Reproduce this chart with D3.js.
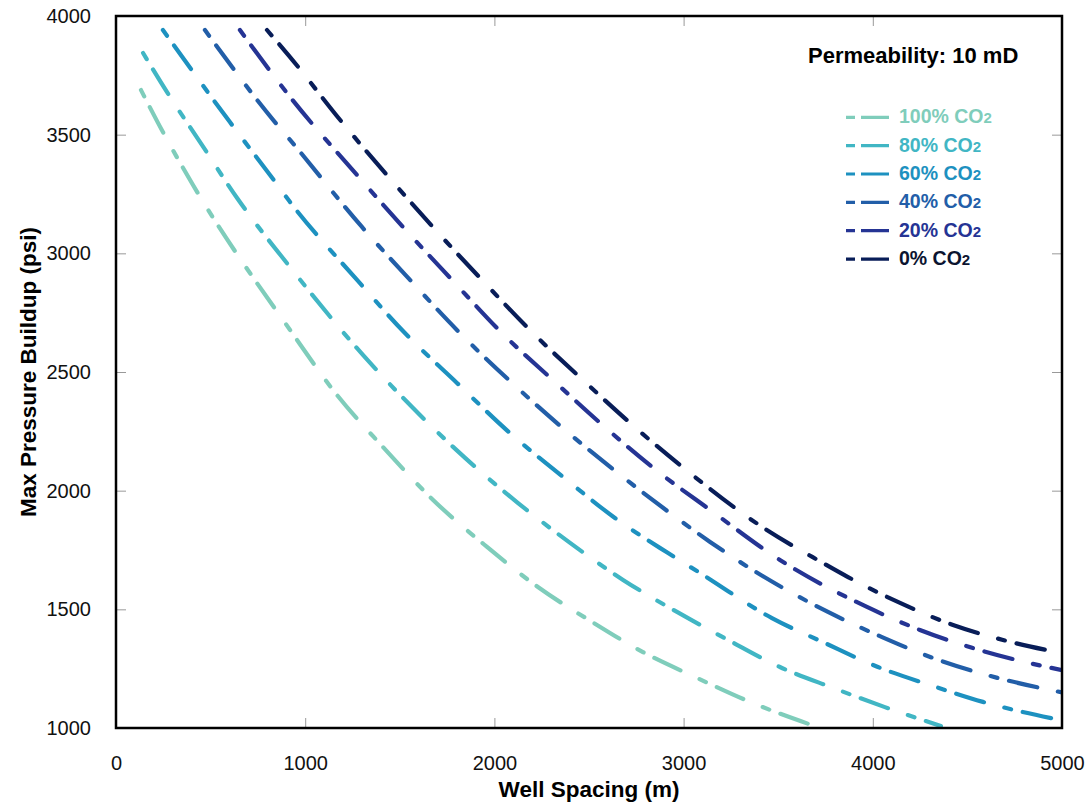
<!DOCTYPE html>
<html>
<head>
<meta charset="utf-8">
<script src="https://cdn.jsdelivr.net/npm/d3@7"></script>
<style>
  body { margin: 0; background: #fff; }
  svg text { font-family: "Liberation Sans", Arial, sans-serif; }
</style>
</head>
<body>
<svg id="chart" width="1087" height="805"></svg>
<script>
// series: well spacing (m) and max pressure buildup (psi)
const spacing100 = [132, 248, 407, 920, 1168, 1411, 1676, 1961, 2230, 2516, 2785, 3071, 3351, 3740];
const pressure100 = [3688, 3511, 3288, 2677, 2403, 2184, 1961, 1763, 1594, 1447, 1320, 1211, 1110, 995];

const spacing80 = [143, 269, 455, 640, 920, 1305, 1570, 1845, 2125, 2400, 2680, 2965, 3235, 3509, 3790, 4064, 4360];
const pressure80 = [3844, 3680, 3456, 3233, 2942, 2572, 2348, 2138, 1948, 1780, 1624, 1489, 1371, 1257, 1169, 1088, 1008];

const spacing60 = [248, 602, 814, 920, 1274, 1527, 1802, 2082, 2363, 2637, 2918, 3087, 3467, 3747, 4027, 4302, 4582, 5000];
const pressure60 = [3941, 3553, 3330, 3216, 2888, 2664, 2454, 2243, 2058, 1885, 1737, 1653, 1463, 1358, 1257, 1181, 1110, 1032];

const spacing40 = [470, 840, 920, 1300, 1554, 1818, 2093, 2373, 2653, 2928, 3140, 3282, 3763, 4049, 4318, 4604, 4884, 5000];
const pressure40 = [3941, 3553, 3478, 3111, 2888, 2664, 2454, 2256, 2074, 1906, 1784, 1708, 1489, 1383, 1295, 1223, 1169, 1150];

const spacing20 = [655, 920, 1274, 1517, 1776, 2040, 2320, 2595, 2875, 3140, 3509, 3969, 4249, 4529, 4804, 5000];
const pressure20 = [3941, 3659, 3330, 3111, 2888, 2664, 2458, 2260, 2074, 1919, 1708, 1510, 1413, 1337, 1278, 1244];

const spacing0 = [798, 920, 1194, 1432, 1675, 1934, 2204, 2479, 2759, 3034, 3400, 3737, 3869, 4144, 4424, 4688, 5000];
const pressure0 = [3941, 3827, 3553, 3330, 3111, 2888, 2664, 2458, 2256, 2074, 1855, 1695, 1636, 1527, 1434, 1371, 1315];

const seriesNames = ["100%", "80%", "60%", "40%", "20%", "0%"];
const seriesColors = ["#7fcdbb", "#41b6c4", "#1d91c0", "#225ea8", "#253494", "#081d58"];
const legendTextColors = ["#7fcdbb", "#41b6c4", "#1d91c0", "#225ea8", "#253494", "#0b1430"];

const xTicks = [0, 1000, 2000, 3000, 4000, 5000];
const yTicks = [1000, 1500, 2000, 2500, 3000, 3500, 4000];

const allSpacing = [spacing100, spacing80, spacing60, spacing40, spacing20, spacing0];
const allPressure = [pressure100, pressure80, pressure60, pressure40, pressure20, pressure0];

const margin = {top: 16, right: 25, bottom: 77, left: 116};
const width = 1087, height = 805;

const svg = d3.select("#chart");

const x = d3.scaleLinear()
    .domain([0, 5000])
    .range([margin.left, width - margin.right]);

const y = d3.scaleLinear()
    .domain([1000, 4000])
    .range([height - margin.bottom, margin.top]);

svg.append("defs").append("clipPath")
    .attr("id", "plot-clip")
  .append("rect")
    .attr("x", x(0))
    .attr("y", y(4000))
    .attr("width", x(5000) - x(0))
    .attr("height", y(1000) - y(4000));

// axes, ticks point inward on every side
function styleAxis(g) {
    g.select(".domain").remove();
    g.selectAll(".tick line").attr("stroke", "#999").attr("stroke-width", 1);
    g.selectAll(".tick text").attr("fill", "#111").style("font-size", "20px");
}

const fmt = d3.format("d");

svg.append("g")
    .attr("transform", "translate(0," + y(1000) + ")")
    .call(d3.axisBottom(x).tickValues(xTicks).tickFormat(fmt).tickSizeInner(-10).tickSizeOuter(0).tickPadding(28))
    .call(styleAxis);

svg.append("g")
    .attr("transform", "translate(0," + y(4000) + ")")
    .call(d3.axisTop(x).tickValues(xTicks).tickSizeInner(-10).tickSizeOuter(0).tickFormat(""))
    .call(styleAxis);

svg.append("g")
    .attr("transform", "translate(" + x(0) + ",0)")
    .call(d3.axisLeft(y).tickValues(yTicks).tickFormat(fmt).tickSizeInner(-10).tickSizeOuter(0).tickPadding(25))
    .call(styleAxis);

svg.append("g")
    .attr("transform", "translate(" + x(5000) + ",0)")
    .call(d3.axisRight(y).tickValues(yTicks).tickSizeInner(-10).tickSizeOuter(0).tickFormat(""))
    .call(styleAxis);

// curves
const line = d3.line()
    .x(d => x(d[0]))
    .y(d => y(d[1]))
    .curve(d3.curveMonotoneX);

svg.append("g")
    .attr("clip-path", "url(#plot-clip)")
  .selectAll("path")
  .data(seriesNames)
  .enter()
  .append("path")
    .attr("d", (d, i) => line(allSpacing[i].map((s, j) => [s, allPressure[i][j]])))
    .attr("fill", "none")
    .attr("stroke", (d, i) => seriesColors[i])
    .attr("stroke-width", 4.2)
    .attr("stroke-linecap", "round")
    .attr("stroke-dasharray", "7,12,29,21");

// frame
svg.append("rect")
    .attr("x", x(0))
    .attr("y", y(4000))
    .attr("width", x(5000) - x(0))
    .attr("height", y(1000) - y(4000))
    .attr("fill", "none")
    .attr("stroke", "#000")
    .attr("stroke-width", 2.5);

// axis titles
svg.append("text")
    .attr("x", (x(0) + x(5000)) / 2)
    .attr("y", 797)
    .attr("text-anchor", "middle")
    .style("font-size", "22.5px")
    .style("font-weight", "bold")
    .text("Well Spacing (m)");

svg.append("text")
    .attr("transform", "translate(36," + ((y(1000) + y(4000)) / 2) + ") rotate(-90)")
    .attr("text-anchor", "middle")
    .style("font-size", "22.5px")
    .style("font-weight", "bold")
    .text("Max Pressure Buildup (psi)");

// legend
svg.append("text")
    .attr("x", 808)
    .attr("y", 63)
    .style("font-size", "22px")
    .style("font-weight", "bold")
    .text("Permeability: 10 mD");

const legend = svg.append("g")
    .selectAll("g")
    .data(seriesNames)
    .enter()
    .append("g")
    .attr("transform", (d, i) => "translate(846," + (123.3 + i * 28.35) + ")");

legend.append("line")
    .attr("x1", 0)
    .attr("x2", 43)
    .attr("y1", -6)
    .attr("y2", -6)
    .attr("stroke", (d, i) => seriesColors[i])
    .attr("stroke-width", 3.2)
    .attr("stroke-dasharray", "9,6,28,40");

const label = legend.append("text")
    .attr("x", 53)
    .attr("y", 0)
    .attr("fill", (d, i) => legendTextColors[i])
    .style("font-size", "19.5px")
    .style("font-weight", "bold");

label.append("tspan").text(d => d + " CO");
label.append("tspan").style("font-size", "15px").text("2");
</script>
</body>
</html>
